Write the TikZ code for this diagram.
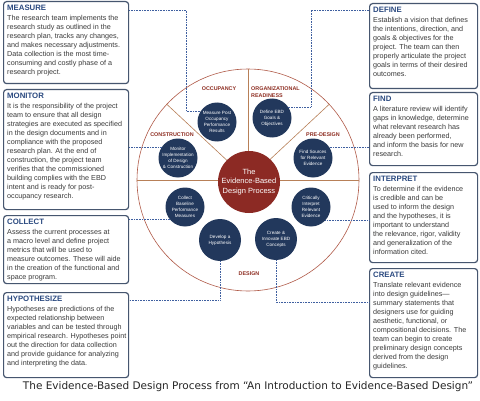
\documentclass[tikz,border=0pt]{standalone}
\usepackage{fontspec}
\setmainfont{Liberation Sans}
\newfontfamily\capfont{DejaVu Sans}
\definecolor{boxline}{HTML}{46566F}
\definecolor{titleblue}{HTML}{2B4A80}
\definecolor{bodygray}{HTML}{3A3A3A}
\definecolor{navy}{HTML}{22385C}
\definecolor{secred}{HTML}{8E2E22}
\definecolor{centred}{HTML}{8C2A24}
\definecolor{dotblue}{HTML}{3F5FA0}
\definecolor{circclr}{HTML}{B05A48}
\definecolor{lineclr}{HTML}{B88058}
\newcommand\ttl[1]{{\fontsize{7.8}{9}\selectfont\bfseries\color{titleblue}#1}}
\begin{document}
\begin{tikzpicture}[x=1pt,y=1pt,
  ebox/.style={draw=boxline, line width=1.2pt, rounded corners=3pt, fill=white, anchor=north west, inner sep=0},
  btext/.style={anchor=north west, inner sep=0, align=left, text=bodygray, font=\fontsize{7.2}{9}\selectfont, xshift=4pt, yshift=-4pt},
  stage/.style={circle, fill=navy, text=white, inner sep=0, minimum size=39pt, align=center, font=\fontsize{4.6}{5.9}\selectfont},
  sector/.style={text=secred, font=\fontsize{5.4}{7}\selectfont\bfseries, inner sep=0},
  conn/.style={draw=dotblue, line width=0.9pt, dash pattern=on 0.8pt off 0.8pt},
  divline/.style={draw=lineclr, line width=0.6pt}]
\useasboundingbox[fill=white] (0,0) rectangle (480,400);

% big wheel
\node[circle, draw=circclr, line width=0.6pt, minimum size=222pt, inner sep=0] (big) at (248,220) {};
\draw[divline] (big.west) -- (big.east);
\draw[divline] (big.center) -- (big.90);
\draw[divline] (big.center) -- (big.137);
\draw[divline] (big.center) -- (big.43);

% sector labels
\node[sector] (lOcc) at (219,311) {OCCUPANCY};
\node[sector, anchor=west, align=left] (lOrg) at (251,307.5) {ORGANIZATIONAL\\READINESS};
\node[sector] (lCon) at (172,265) {CONSTRUCTION};
\node[sector] (lPre) at (323,265) {PRE-DESIGN};
\node[sector] (lDes) at (249,126) {DESIGN};

% stage circles
\node[stage] (mpost) at (217,278) {Measure Post\\Occupancy\\Performance\\Results};
\node[stage] (monc) at (178,242) {Monitor\\Implementation\\of Design\\\& Construction};
\node[stage] (defc) at (272,282) {Define EBD\\Goals \&\\Objectives};
\node[stage] (findc) at (313,242) {Find Sources\\for Relevant\\Evidence};
\node[stage] (colc) at (185,193) {Collect\\Baseline\\Performance\\Measures};
\node[stage] (critc) at (311,193) {Critically\\Interpret\\Relevant\\Evidence};
\node[stage, minimum size=42pt] (hypc) at (220,160) {Develop a\\Hypothesis};
\node[stage, minimum size=42pt] (crc) at (276,161) {Create \&\\Innovate EBD\\Concepts};

% centre
\node[circle, fill=centred, text=white, inner sep=0, minimum size=62pt, align=center,
  font=\fontsize{7.5}{9.5}\selectfont] (centre) at (249,218) {The\\Evidence-Based\\Design Process};

% boxes
\node[ebox, minimum width=125pt, minimum height=82pt] (measure) at (3,399) {};
\node[btext] (tmeasure) at (measure.north west) {\ttl{MEASURE}\\[1pt]
The research team implements the\\
research study as outlined in the\\
research plan, tracks any changes,\\
and makes necessary adjustments.\\
Data collection is the most time-\\
consuming and costly phase of a\\
research project.};

\node[ebox, minimum width=125pt, minimum height=120pt] (monitor) at (3,311) {};
\node[btext] (tmonitor) at (monitor.north west) {\ttl{MONITOR}\\[1pt]
It is the responsibility of the project\\
team to ensure that all design\\
strategies are executed as specified\\
in the design documents and in\\
compliance with the proposed\\
research plan. At the end of\\
construction, the project team\\
verifies that the commissioned\\
building complies with the EBD\\
intent and is ready for post-\\
occupancy research.};

\node[ebox, minimum width=125pt, minimum height=68pt] (collect) at (3,185) {};
\node[btext] (tcollect) at (collect.north west) {\ttl{COLLECT}\\[1pt]
Assess the current processes at\\
a macro level and define project\\
metrics that will be used to\\
measure outcomes. These will aide\\
in the creation of the functional and\\
space program.};

\node[ebox, minimum width=125pt, minimum height=85pt] (hypo) at (3,108) {};
\node[btext] (thypo) at (hypo.north west) {\ttl{HYPOTHESIZE}\\[1pt]
Hypotheses are predictions of the\\
expected relationship between\\
variables and can be tested through\\
empirical research. Hypotheses point\\
out the direction for data collection\\
and provide guidance for analyzing\\
and interpreting the data.};

\node[ebox, minimum width=108pt, minimum height=85pt] (define) at (369,397) {};
\node[btext] (tdefine) at (define.north west) {\ttl{DEFINE}\\[1pt]
Establish a vision that defines\\
the intentions, direction, and\\
goals \& objectives for the\\
project. The team can then\\
properly articulate the project\\
goals in terms of their desired\\
outcomes.};

\node[ebox, minimum width=108pt, minimum height=73pt] (find) at (369,308) {};
\node[btext] (tfind) at (find.north west) {\ttl{FIND}\\[1pt]
A literature review will identify\\
gaps in knowledge, determine\\
what relevant research has\\
already been performed,\\
and inform the basis for new\\
research.};

\node[ebox, minimum width=108pt, minimum height=90pt] (interp) at (369,228) {};
\node[btext] (tinterp) at (interp.north west) {\ttl{INTERPRET}\\[1pt]
To determine if the evidence\\
is credible and can be\\
used to inform the design\\
and the hypotheses, it is\\
important to understand\\
the relevance, rigor, validity\\
and generalization of the\\
information cited.};

\node[ebox, minimum width=108pt, minimum height=109pt] (create) at (369,132) {};
\node[btext] (tcreate) at (create.north west) {\ttl{CREATE}\\[1pt]
Translate relevant evidence\\
into design guidelines—\\
summary statements that\\
designers use for guiding\\
aesthetic, functional, or\\
compositional decisions. The\\
team can begin to create\\
preliminary design concepts\\
derived from the design\\
guidelines.};

% connectors
\coordinate (m1) at (186,390);
\draw[conn] (m1 -| measure.east) -- (m1) |- (mpost.146);
\coordinate (d1) at (311,390);
\draw[conn] (d1 -| define.west) -- (d1) |- (defc.34);
\draw[conn] (monc.148 -| monitor.east) -- (monc.148);
\draw[conn] (findc.32) -- (findc.32 -| find.west);
\draw[conn] (colc.219 -| collect.east) -- (colc.219);
\draw[conn] (critc.317) -- (critc.317 -| interp.west);
\coordinate (h1) at (220,100);
\draw[conn] (hypc.south) -- (h1) -- (h1 -| hypo.east);
\coordinate (c1) at (276,98);
\draw[conn] (crc.south) -- (c1) -- (c1 -| create.west);

% caption
\node[font=\capfont\fontsize{10.5}{12}\selectfont, text=black!85, inner sep=0] (cap) at (248,13)
  {The Evidence-Based Design Process from “An Introduction to Evidence-Based Design”};
\end{tikzpicture}
\end{document}
